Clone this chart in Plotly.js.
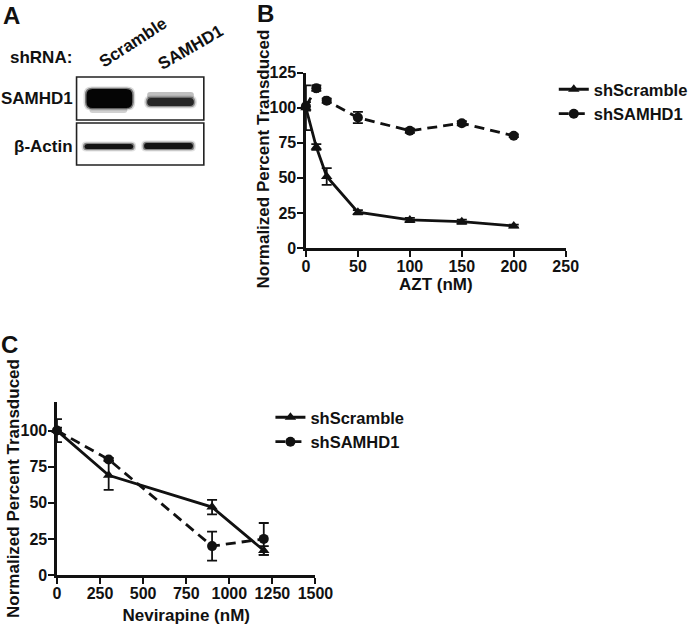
<!DOCTYPE html>
<html><head><meta charset="utf-8">
<script src="https://cdn.plot.ly/plotly-3.0.1.min.js"></script>
<style>html,body{margin:0;padding:0;background:#fff;}#chart{width:693px;height:625px;}</style>
</head><body><div id="chart"></div>
<script>
// Panel B data (AZT)
const aztDose = [0, 10, 20, 50, 100, 150, 200];
const aztScramble = [100, 72, 51, 25.5, 20, 18.8, 15.7];
const aztScrambleErr = [16, 2, 6, 1.5, 1.5, 1.5, 1];
const aztSAMHD1 = [101, 114, 105, 93, 83.6, 89, 80];
const aztSAMHD1Err = [3, 2, 1.5, 4, 1.5, 1.5, 1];
// Panel C data (Nevirapine)
const nvpDose = [0, 300, 900, 1200];
const nvpScramble = [100, 69, 47, 17];
const nvpScrambleErr = [8, 10, 5, 3];
const nvpSAMHD1 = [100, 80, 20, 25];
const nvpSAMHD1Err = [2, 1, 10, 11];
const seriesNames = ['shScramble', 'shSAMHD1'];
const aztTicks = [0, 50, 100, 150, 200, 250];
const nvpTicks = [0, 250, 500, 750, 1000, 1250, 1500];
const yTicksB = [0, 25, 50, 75, 100, 125];
const yTicksC = [0, 25, 50, 75, 100];
const laneLabels = ['Scramble', 'SAMHD1'];
const blotRows = ['SAMHD1', 'β-Actin'];
const yTitle = 'Normalized Percent Transduced';

const W = 693, H = 625;
const px = x => x / W, py = y => 1 - y / H;
const FONT = 'Arial, "Liberation Sans", sans-serif';
const ink = '#111';

function trace(x, y, err, name, sym, dash, xa, ya, leg) {
  return {
    x, y, name, type: 'scatter', mode: 'lines+markers',
    xaxis: xa, yaxis: ya, legend: leg, cliponaxis: false,
    line: {color: ink, width: 2.8, dash: dash},
    marker: {symbol: sym, size: 10, color: ink},
    error_y: {type: 'data', array: err, visible: true, color: ink, thickness: 1.8, width: 5}
  };
}
const data = [
  trace(aztDose, aztScramble, aztScrambleErr, seriesNames[0], 'triangle-up', 'solid', 'x', 'y', 'legend'),
  trace(aztDose, aztSAMHD1, aztSAMHD1Err, seriesNames[1], 'circle', '10px,6px', 'x', 'y', 'legend'),
  trace(nvpDose, nvpScramble, nvpScrambleErr, seriesNames[0], 'triangle-up', 'solid', 'x2', 'y2', 'legend2'),
  trace(nvpDose, nvpSAMHD1, nvpSAMHD1Err, seriesNames[1], 'circle', '10px,6px', 'x2', 'y2', 'legend2')
];

const tickFont = {family: FONT, size: 16, color: ink, weight: 'bold'};
const titleFont = {family: FONT, size: 17, color: ink, weight: 'bold'};
function ax(extra) {
  return Object.assign({
    showline: true, linewidth: 2.5, linecolor: ink, ticks: 'outside', ticklen: 6,
    tickwidth: 2, tickcolor: ink, showgrid: false, zeroline: false, tickfont: tickFont,
    fixedrange: true, automargin: false
  }, extra);
}

const shapes = [];
const rect = (x0, y0, x1, y1, opts) => Object.assign({type: 'rect', xref: 'paper', yref: 'paper',
  x0: px(x0), x1: px(x1), y0: py(y1), y1: py(y0), layer: 'above'}, opts);
function rrect(x0, y0, x1, y1, r, fill) {
  const X = v => px(v), Y = v => py(v);
  const p = `M${X(x0 + r)},${Y(y0)} L${X(x1 - r)},${Y(y0)} Q${X(x1)},${Y(y0)} ${X(x1)},${Y(y0 + r)} ` +
    `L${X(x1)},${Y(y1 - r)} Q${X(x1)},${Y(y1)} ${X(x1 - r)},${Y(y1)} L${X(x0 + r)},${Y(y1)} ` +
    `Q${X(x0)},${Y(y1)} ${X(x0)},${Y(y1 - r)} L${X(x0)},${Y(y0 + r)} Q${X(x0)},${Y(y0)} ${X(x0 + r)},${Y(y0)} Z`;
  shapes.push({type: 'path', xref: 'paper', yref: 'paper', path: p, fillcolor: fill, line: {width: 0}, layer: 'above'});
}
function band(x0, y0, x1, y1, r, core, halo) {
  rrect(x0 - 3, y0 - 2.5, x1 + 3, y1 + 2.5, r + 2, halo[0]);
  rrect(x0 - 1.5, y0 - 1.2, x1 + 1.5, y1 + 1.2, r + 1, halo[1]);
  rrect(x0, y0, x1, y1, r, core);
}
// bands
band(87, 89, 133, 108, 6, '#050505', ['rgba(0,0,0,0.15)', 'rgba(0,0,0,0.45)']);
rrect(90, 106, 128, 113, 3, 'rgba(0,0,0,0.18)');
rrect(148, 92, 195, 99, 3, 'rgba(0,0,0,0.25)');
band(148, 98, 195, 106, 4, '#262626', ['rgba(0,0,0,0.12)', 'rgba(0,0,0,0.35)']);
band(85, 144, 134, 149, 2.5, '#141414', ['rgba(0,0,0,0.12)', 'rgba(0,0,0,0.4)']);
band(145, 143, 194, 149, 2.5, '#141414', ['rgba(0,0,0,0.12)', 'rgba(0,0,0,0.4)']);
// blot frames
shapes.push(rect(77, 77, 205, 120, {line: {color: '#222', width: 1.6}, fillcolor: 'rgba(0,0,0,0)'}));
shapes.push(rect(77, 123, 205, 165, {line: {color: '#222', width: 1.6}, fillcolor: 'rgba(0,0,0,0)'}));

const ann = (text, x, y, size, extra) => Object.assign({text, xref: 'paper', yref: 'paper',
  x: px(x), y: py(y), xanchor: 'center', yanchor: 'middle', showarrow: false,
  font: {family: FONT, size, color: ink, weight: 'bold'}}, extra);
const annotations = [
  ann('A', 12, 15, 24),
  ann('B', 267, 14, 24),
  ann('C', 10, 344, 24),
  ann('shRNA:', 41, 58, 17),
  ann(blotRows[0], 37, 98, 17),
  ann(blotRows[1], 43.5, 146, 17),
  ann(laneLabels[0], 134, 43, 17, {textangle: -33}),
  ann(laneLabels[1], 192, 48, 17, {textangle: -30}),
  ann(yTitle, 266, 159, 17, {textangle: -90}),
  ann(yTitle, 13, 488, 17, {textangle: -90})
];

const layout = {
  width: W, height: H, margin: {l: 0, r: 0, t: 0, b: 0},
  paper_bgcolor: '#fff', plot_bgcolor: '#fff',
  font: {family: FONT, color: ink},
  xaxis: ax({domain: [px(307.7), px(569)], range: [0, 250], tickvals: aztTicks, anchor: 'y',
    ticklabelstandoff: -4, title: {text: 'AZT (nM)', font: titleFont, standoff: 1}}),
  yaxis: ax({domain: [py(248), py(72.7)], range: [0, 125], tickvals: yTicksB, anchor: 'x',
    ticklabelstandoff: -2}),
  xaxis2: ax({domain: [px(57.3), px(317.3)], range: [0, 1500], tickvals: nvpTicks, anchor: 'y2',
    ticklabelstandoff: -4, title: {text: 'Nevirapine (nM)', font: titleFont, standoff: 10}}),
  yaxis2: ax({domain: [py(575), py(401.7)], range: [0, 120], tickvals: yTicksC, anchor: 'x2',
    ticklabelstandoff: -2}),
  showlegend: true,
  legend: {x: px(557), y: py(72), xanchor: 'left', yanchor: 'top', bgcolor: 'rgba(0,0,0,0)',
    font: {family: FONT, size: 16.5, color: ink, weight: 'bold'}, tracegroupgap: 0},
  legend2: {x: px(272), y: py(400), xanchor: 'left', yanchor: 'top', bgcolor: 'rgba(0,0,0,0)',
    font: {family: FONT, size: 16.5, color: ink, weight: 'bold'}, tracegroupgap: 0},
  shapes, annotations
};
Plotly.newPlot('chart', data, layout, {displayModeBar: false, staticPlot: true});
</script></body></html>
